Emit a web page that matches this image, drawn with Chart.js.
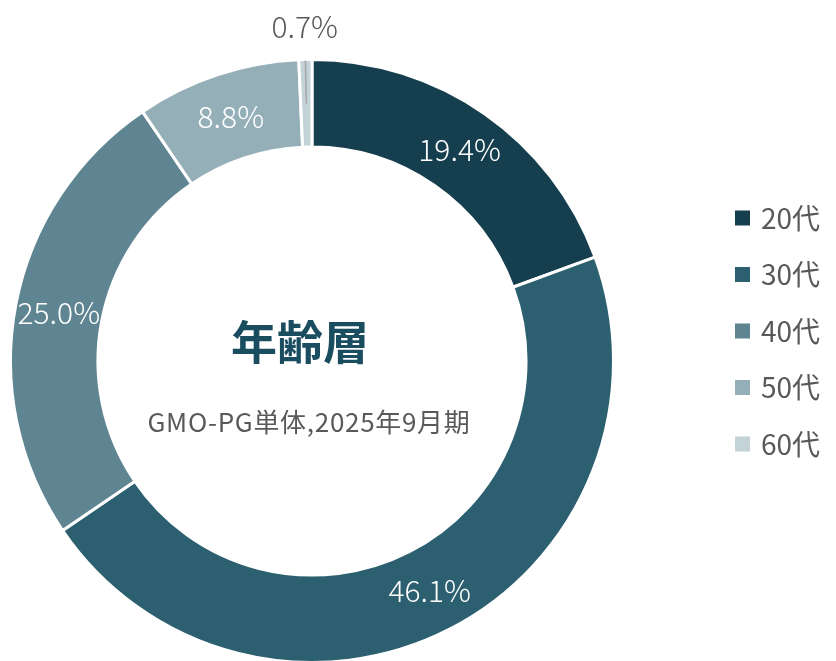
<!DOCTYPE html>
<html>
<head>
<meta charset="utf-8">
<script src="https://cdn.jsdelivr.net/npm/chart.js@4"></script>
<style>
  html, body { margin: 0; padding: 0; background: #fff; overflow: hidden; }
  #wrap { width: 836px; height: 661px; position: relative; overflow: hidden; }
</style>
</head>
<body>
<div id="wrap"><canvas id="chart" width="836" height="670"></canvas></div>
<script>
const categories = ['20代', '30代', '40代', '50代', '60代'];
const shares = [19.4, 46.1, 25.0, 8.8, 0.7];
const sliceColors = ['#153f4f', '#2c5f6f', '#5e8591', '#95afb8', '#c3d3d8'];
const centerTitle = '年齢層';
const centerSub = 'GMO-PG単体,2025年9月期';

const FONT = '"Noto Sans CJK JP", "Noto Sans", sans-serif';

// ラベル（スライス内の％、凡例、中央テキスト）
const labelsPlugin = {
  id: 'labels',
  afterDatasetsDraw(chart) {
    const ctx = chart.ctx;
    const meta = chart.getDatasetMeta(0);
    ctx.save();
    ctx.textAlign = 'center';
    ctx.textBaseline = 'middle';
    meta.data.forEach((arc, i) => {
      const p = arc.getProps(['x', 'y', 'startAngle', 'endAngle', 'innerRadius', 'outerRadius'], true);
      const mid = (p.startAngle + p.endAngle) / 2;
      const txt = shares[i].toFixed(1) + '%';
      ctx.font = '300 30px ' + FONT;
      if (shares[i] < 3) {
        // 小さいスライスは外側に表示
        ctx.strokeStyle = '#a6a6a6';
        ctx.lineWidth = 1.5;
        ctx.beginPath();
        ctx.moveTo(p.x + Math.cos(mid) * (p.outerRadius - 1), p.y + Math.sin(mid) * (p.outerRadius - 1));
        ctx.lineTo(p.x + Math.cos(mid) * (p.outerRadius - 44), p.y + Math.sin(mid) * (p.outerRadius - 44));
        ctx.stroke();
        ctx.fillStyle = '#595959';
        const r = p.outerRadius + 33;
        ctx.fillText(txt, p.x + Math.cos(mid) * r, p.y + Math.sin(mid) * r);
      } else {
        ctx.fillStyle = '#ffffff';
        const r = (p.innerRadius + p.outerRadius) / 2;
        ctx.fillText(txt, p.x + Math.cos(mid) * r, p.y + Math.sin(mid) * r);
      }
    });

    // 中央テキスト
    const c = meta.data[0];
    ctx.fillStyle = '#1b4d61';
    ctx.font = 'bold 46px ' + FONT;
    ctx.fillText(centerTitle, c.x - 12, c.y - 19);
    ctx.fillStyle = '#595959';
    ctx.font = '26px ' + FONT;
    ctx.letterSpacing = '0.7px';
    ctx.fillText(centerSub, c.x - 3, c.y + 61);
    ctx.letterSpacing = '0px';

    // 凡例
    ctx.textAlign = 'left';
    categories.forEach((name, i) => {
      const y = 218 + i * 56.5;
      ctx.fillStyle = sliceColors[i];
      ctx.fillRect(735, y - 7.5, 15, 15);
      ctx.fillStyle = '#595959';
      ctx.font = '28px ' + FONT;
      ctx.fillText(name, 761, y);
    });
    ctx.restore();
  }
};

new Chart(document.getElementById('chart'), {
  type: 'doughnut',
  data: {
    labels: categories,
    datasets: [{
      data: shares,
      backgroundColor: sliceColors,
      borderColor: '#ffffff',
      borderWidth: 3
    }]
  },
  options: {
    responsive: false,
    animation: false,
    cutout: '71%',
    layout: { padding: { left: 9, right: 221, top: 58, bottom: 6 } },
    plugins: {
      legend: { display: false },
      tooltip: { enabled: false }
    }
  },
  plugins: [labelsPlugin]
});
</script>
</body>
</html>
